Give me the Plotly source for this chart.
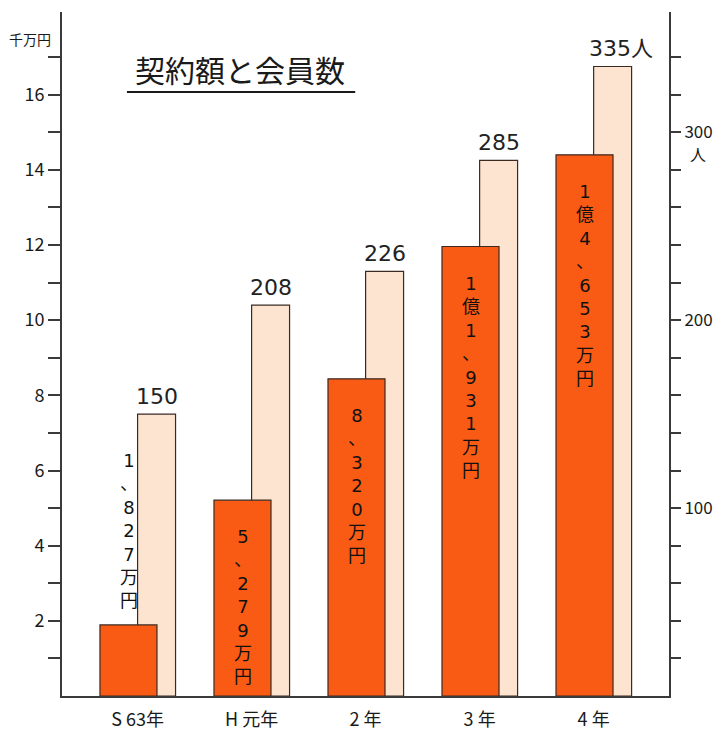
import plotly.graph_objects as go

categories = ["S 63年", "H 元年", "2 年", "3 年", "4 年"]
amount = [1.89, 5.21, 8.44, 11.96, 14.40]                # 千万円 (bar heights as drawn)
amount_labels = ["1、827万円", "5、279万円", "8、320万円", "1億1、931万円", "1億4、653万円"]
members = [150, 208, 226, 285, 335]                      # 人
member_labels = ["150", "208", "226", "285", "335人"]

left_ticks = list(range(1, 18))
left_text = [str(v) if v % 2 == 0 else "" for v in left_ticks]
right_ticks = list(range(20, 341, 20))
right_text = [str(v) if v % 100 == 0 else "" for v in right_ticks]

FONT = "Noto Sans CJK JP, Noto Sans, sans-serif"
NUMFONT = "DejaVu Sans, Noto Sans CJK JP, sans-serif"
ORANGE = "#F95A14"
LIGHT = "#FCE4D0"
EDGE = "#3a2a22"
AX = "#3a3a3a"

fig = go.Figure()
# members (light bars) on primary y (right side)
fig.add_trace(go.Bar(x=categories, y=members, yaxis="y", width=0.333, offset=0.0,
                     marker=dict(color=LIGHT, line=dict(color=EDGE, width=1.2)),
                     hoverinfo="skip"))
# amount (orange bars) on y2 (left side), drawn on top
fig.add_trace(go.Bar(x=categories, y=amount, yaxis="y2", width=0.5, offset=-0.33,
                     marker=dict(color=ORANGE, line=dict(color=EDGE, width=1.2)),
                     hoverinfo="skip"))

annotations = []
for i, (c, a, lab) in enumerate(zip(categories, amount, amount_labels)):
    txt = "<br>".join(list(lab))
    if i == 0:
        annotations.append(dict(x=c, y=a, xref="x", yref="y2", text=txt, showarrow=False,
                                xanchor="center", yanchor="bottom", xshift=-9, yshift=12,
                                font=dict(family=NUMFONT, size=18, color="#111")))
    else:
        annotations.append(dict(x=c, y=a, xref="x", yref="y2", text=txt, showarrow=False,
                                xanchor="center", yanchor="top", xshift=-9, yshift=-24,
                                font=dict(family=NUMFONT, size=18, color="#111")))
for c, m, lab in zip(categories, members, member_labels):
    annotations.append(dict(x=c, y=m, xref="x", yref="y", text=lab, showarrow=False,
                            xanchor="center", yanchor="bottom",
                            xshift=19 + (8 if lab.endswith("人") else 0),
                            yshift=3, font=dict(family=NUMFONT, size=22, color="#222")))

annotations += [
    dict(x=0.117, y=0.917, xref="paper", yref="paper", xanchor="left", yanchor="middle",
         text="契約額と会員数", showarrow=False, font=dict(family=FONT, size=30, color="#1a1a1a")),
    dict(x=-0.091, y=0.96, xref="paper", yref="paper", xanchor="left", yanchor="middle",
         text="千万円", showarrow=False, font=dict(family=FONT, size=14, color="#1a1a1a")),
    dict(x=1.0, y=300, xref="paper", yref="y", xanchor="left", yanchor="top", xshift=19, yshift=-8,
         text="人", showarrow=False, font=dict(family=FONT, size=16, color="#1a1a1a")),
]

fig.update_layout(
    width=720, height=733,
    margin=dict(l=62, r=51, t=12, b=37, autoexpand=False),
    paper_bgcolor="white", plot_bgcolor="white",
    showlegend=False, barmode="overlay",
    font=dict(family=FONT, color="#1a1a1a"),
    xaxis=dict(type="category", range=[-0.663, 4.661], showline=True, linecolor=AX, linewidth=2,
               ticks="", showgrid=False, tickfont=dict(size=18, family=FONT), zeroline=False,
               ticklabelstandoff=6, automargin=False),
    yaxis=dict(side="right", range=[0, 364], showline=True, linecolor=AX, linewidth=2,
               tickmode="array", tickvals=right_ticks, ticktext=right_text,
               ticks="outside", ticklen=10, tickwidth=1.5, tickcolor=AX, automargin=False,
               showgrid=False, zeroline=False, tickfont=dict(size=17, family=FONT)),
    yaxis2=dict(side="left", overlaying="y", range=[0, 18.2], showline=True, linecolor=AX, linewidth=2,
                tickmode="array", tickvals=left_ticks, ticktext=left_text, automargin=False,
                ticks="outside", ticklen=12, tickwidth=1.5, tickcolor=AX,
                showgrid=False, zeroline=False, tickfont=dict(size=18, family=FONT)),
    annotations=annotations,
    shapes=[dict(type="line", xref="paper", yref="paper", x0=0.107, x1=0.483, y0=0.883, y1=0.883,
                 line=dict(color="#1a1a1a", width=2))],
)

fig.write_html("out.html")
